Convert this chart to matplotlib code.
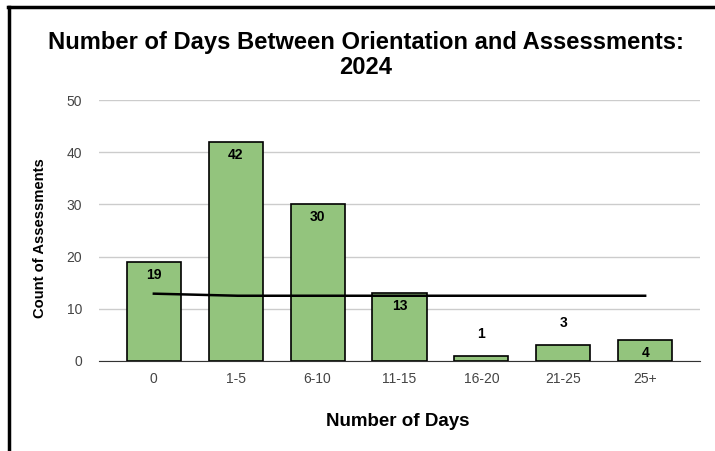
import matplotlib.pyplot as plt
import numpy as np

plt.rcParams['font.family'] = ['Liberation Sans', 'DejaVu Sans']

categories = ["0", "1-5", "6-10", "11-15", "16-20", "21-25", "25+"]
counts = [19, 42, 30, 13, 1, 3, 4]
trend = [12.9, 12.5, 12.5, 12.5, 12.5, 12.5, 12.5]
yticks = [0, 10, 20, 30, 40, 50]

fig = plt.figure(figsize=(7.15, 4.51), dpi=100)
ax = fig.add_axes([99 / 715, 1 - 361 / 451, 601 / 715, 261 / 451])

x = np.arange(len(categories))
ax.bar(x, counts, width=0.66, color="#93c47d", edgecolor="black", linewidth=1.2, zorder=2)

# smooth trend line
xs = np.linspace(0, len(categories) - 1, 200)
ax.plot(xs, np.interp(xs, x, trend), color="black", lw=1.8, zorder=3)

for xi, v in zip(x, counts):
    if v >= 4:
        ax.annotate(str(v), (xi, v), xytext=(0, -13), textcoords="offset pixels",
                    ha="center", va="center", fontsize=10, fontweight="bold", zorder=4)
    else:
        ax.annotate(str(v), (xi, v), xytext=(0, 22), textcoords="offset pixels",
                    ha="center", va="center", fontsize=10, fontweight="bold", zorder=4)

ax.set_xlim(-0.67, 6.67)
ax.set_ylim(0, 50)
ax.set_yticks(yticks)
ax.set_xticks(x)
ax.set_xticklabels(categories)
ax.tick_params(length=0, labelsize=10, colors="#444444", pad=8)
ax.tick_params(axis="y", pad=12)
ax.grid(axis="y", color="#cccccc", lw=1, zorder=0)
for s in ["top", "right", "left"]:
    ax.spines[s].set_visible(False)
ax.spines["bottom"].set_color("#333333")
ax.spines["bottom"].set_zorder(5)

fig.text(40 / 715, 1 - 238 / 451, "Count of Assessments", rotation=90, ha="center", va="center",
         fontsize=10.6, fontweight="bold")
fig.text(398 / 715, 1 - 421 / 451, "Number of Days", ha="center", va="center",
         fontsize=13.5, fontweight="bold")
fig.text(366 / 715, 1 - 55 / 451, "Number of Days Between Orientation and Assessments:\n2024",
         ha="center", va="center", fontsize=17.1, fontweight="bold", linespacing=1.1)

# frame lines (top and left)
fig.add_artist(plt.Line2D([8 / 715, 1], [1 - 7 / 451, 1 - 7 / 451], color="black", lw=2.5))
fig.add_artist(plt.Line2D([9 / 715, 9 / 715], [0, 1 - 7 / 451], color="black", lw=2.5))

fig.savefig("out.png", dpi=100)
